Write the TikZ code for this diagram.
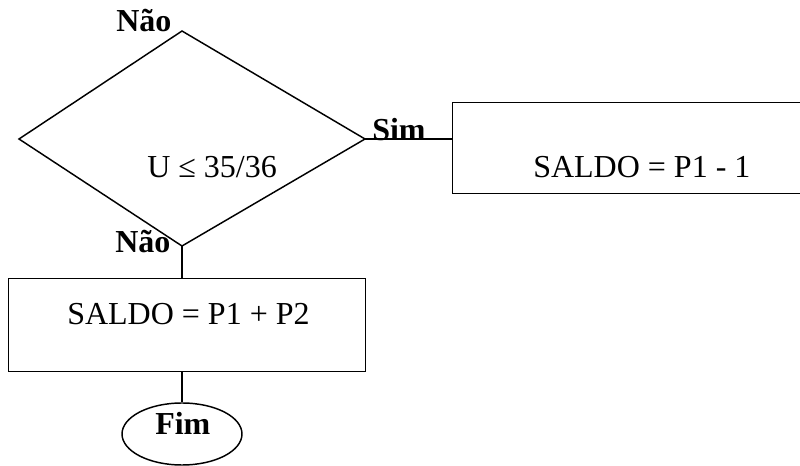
\documentclass[tikz,border=0pt]{standalone}
\usepackage{fontspec}
\setmainfont{Liberation Serif}
\usetikzlibrary{shapes.geometric}
\begin{document}
\begin{tikzpicture}[x=0.75pt,y=-0.75pt,
  line/.style={line width=1.1pt,black},
  box/.style={draw,line width=1.1pt,rectangle,inner sep=0pt},
  txt/.style={anchor=base west,inner sep=0pt,font=\fontsize{24}{28}\selectfont},
  btxt/.style={txt,font=\fontsize{24}{28}\selectfont\bfseries}]
\useasboundingbox (0,0) rectangle (800,466);
\clip (0,0) rectangle (800,466);

% decision
\coordinate (dt) at (182,31);
\coordinate (dl) at (19,139);
\coordinate (dr) at (365,139);
\coordinate (db) at (182,246);
\draw[line,line join=miter] (dt) -- (dr) -- (db) -- (dl) -- cycle;
\node[txt] (cond) at (147,178) {U ≤ 35/36};

% branch "Sim"
\node[box,minimum width=390*0.75pt,minimum height=91*0.75pt,anchor=north west] (b1) at (452,102) {};
\node[txt] (t1) at (533,178) {SALDO = P1 - 1};
\draw[line] (dr) -- (dr -| b1.west);

% branch "Não"
\node[box,minimum width=357*0.75pt,minimum height=93*0.75pt,anchor=north west] (b2) at (8,278) {};
\node[txt] (t2) at (67,325) {SALDO = P1 + P2};
\draw[line] (db) -- (b2.north -| db);

% end
\node[draw,line width=1.1pt,ellipse,minimum width=120*0.75pt,minimum height=62*0.75pt,inner sep=0pt] (fim) at (182,434) {};
\node[btxt] (tf) at (155,435) {Fim};
\draw[line] (b2.south -| db) -- (fim.north);

% branch labels
\node[btxt] (n1) at (116,32) {Não};
\node[btxt] (s1) at (372,141) {Sim};
\node[btxt] (n2) at (115,253) {Não};
\end{tikzpicture}
\end{document}
